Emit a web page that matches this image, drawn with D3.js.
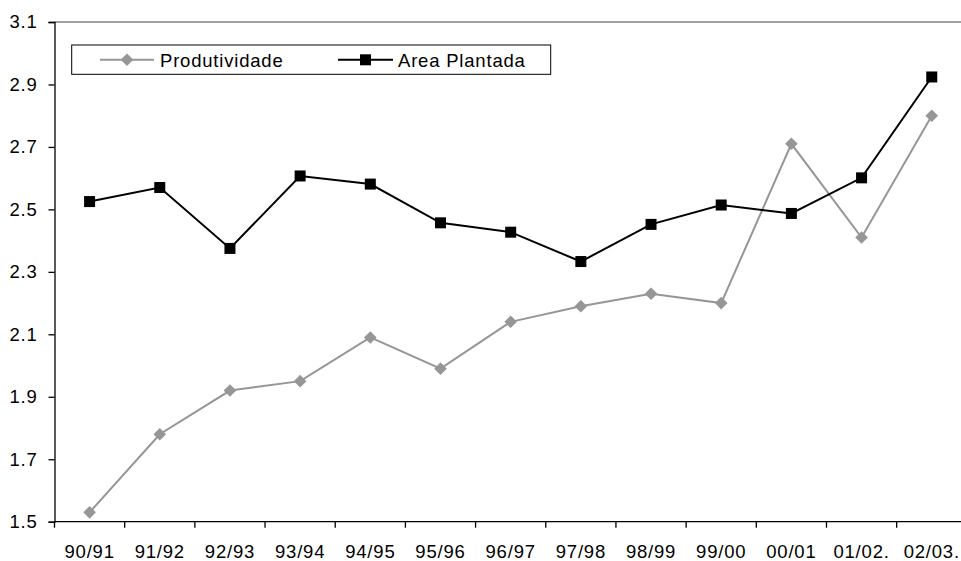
<!DOCTYPE html>
<html><head><meta charset="utf-8">
<script src="https://cdn.jsdelivr.net/npm/d3@7"></script>
<style>
html,body{margin:0;padding:0;background:#fff;}
svg{display:block;}
text{font-family:Arial,"Liberation Sans",sans-serif;}
</style></head>
<body>
<svg id="chart" width="961" height="561"></svg>
<script>
const categories = ["90/91","91/92","92/93","93/94","94/95","95/96","96/97","97/98","98/99","99/00","00/01","01/02.","02/03."];
const produtividade = [1.53,1.78,1.92,1.95,2.09,1.99,2.14,2.19,2.23,2.20,2.71,2.41,2.80];
const areaPlantada = [2.525,2.57,2.375,2.607,2.581,2.457,2.427,2.333,2.452,2.514,2.487,2.601,2.924];
const yTicks = [1.5,1.7,1.9,2.1,2.3,2.5,2.7,2.9,3.1];
const seriesNames = ["Produtividade","Area Plantada"];

const svg = d3.select("#chart");
const plotLeft = 54.5, plotTop = 22, plotBottom = 521.7, band = 70.18;
const FS = "18.5px", LS = "0.8px";
const x = d3.scaleBand().domain(categories).range([plotLeft, plotLeft + band*categories.length]).paddingInner(0).paddingOuter(0);
const y = d3.scaleLinear().domain([1.5,3.1]).range([plotBottom, plotTop]);
const cx = d => x(d) + x.bandwidth()/2;

// top border (gray)
svg.append("line").attr("x1", plotLeft).attr("x2", plotLeft + band*categories.length).attr("y1", plotTop).attr("y2", plotTop)
  .attr("stroke", "#808080").attr("stroke-width", 1.5);

// Y axis
const yAxis = d3.axisLeft(y).tickValues(yTicks).tickFormat(d3.format(".1f")).tickSize(6).tickPadding(11);
const gy = svg.append("g").attr("transform", `translate(${plotLeft},0)`).call(yAxis);
gy.select(".domain").attr("stroke", "#000").attr("stroke-width", 1.3);
gy.selectAll(".tick line").attr("stroke", "#000").attr("stroke-width", 1.3);
gy.selectAll(".tick text").attr("font-size", FS).attr("fill", "#000")
  .attr("font-family", "Arial, 'Liberation Sans', sans-serif").style("letter-spacing", LS);

// X axis
const xAxis = d3.axisBottom(x).tickSize(0).tickPadding(23);
const gx = svg.append("g").attr("transform", `translate(0,${plotBottom})`).call(xAxis);
gx.select(".domain").remove();
gx.selectAll(".tick text").attr("font-size", FS).attr("fill", "#000")
  .attr("font-family", "Arial, 'Liberation Sans', sans-serif").style("letter-spacing", LS);
svg.append("line").attr("x1", plotLeft).attr("x2", plotLeft + band*categories.length).attr("y1", plotBottom).attr("y2", plotBottom)
  .attr("stroke", "#000").attr("stroke-width", 1.3);
svg.append("g").selectAll("line").data(categories).join("line")
  .attr("x1", d => x(d)).attr("x2", d => x(d)).attr("y1", plotBottom).attr("y2", plotBottom + 6)
  .attr("stroke", "#000").attr("stroke-width", 1.3);

// lines
const lineGen = d3.line().x((d,i) => cx(categories[i])).y(d => y(d));
svg.append("path").datum(produtividade).attr("d", lineGen).attr("fill", "none").attr("stroke", "#969696").attr("stroke-width", 2);
svg.append("path").datum(areaPlantada).attr("d", lineGen).attr("fill", "none").attr("stroke", "#000").attr("stroke-width", 2);

const diamond = (px, py, r) => `M${px},${py-r}L${px+r},${py}L${px},${py+r}L${px-r},${py}Z`;
svg.append("g").selectAll("path").data(produtividade).join("path")
  .attr("d", (d,i) => diamond(cx(categories[i]), y(d), 6.3)).attr("fill", "#969696");
svg.append("g").selectAll("rect").data(areaPlantada).join("rect")
  .attr("x", (d,i) => cx(categories[i]) - 5.5).attr("y", d => y(d) - 5.5)
  .attr("width", 11).attr("height", 11).attr("fill", "#000");

// legend
const lg = svg.append("g");
lg.append("rect").attr("x", 71.7).attr("y", 45).attr("width", 479).attr("height", 29.3)
  .attr("fill", "#fff").attr("stroke", "#000").attr("stroke-width", 1);
const ly = 59.8;
const items = [
  {name: seriesNames[0], x1: 100, x2: 154, color: "#969696", tx: 160},
  {name: seriesNames[1], x1: 338, x2: 393, color: "#000", tx: 398}
];
items.forEach((it, k) => {
  lg.append("line").attr("x1", it.x1).attr("x2", it.x2).attr("y1", ly).attr("y2", ly).attr("stroke", it.color).attr("stroke-width", 2);
  const mx = (it.x1 + it.x2)/2;
  if (k === 0) lg.append("path").attr("d", diamond(mx, ly, 6.3)).attr("fill", it.color);
  else lg.append("rect").attr("x", mx-5.5).attr("y", ly-5.5).attr("width", 11).attr("height", 11).attr("fill", it.color);
  lg.append("text").attr("x", it.tx).attr("y", 66.7).attr("font-size", FS).style("letter-spacing", LS)
    .attr("fill", "#000").text(it.name);
});
</script>
</body></html>
